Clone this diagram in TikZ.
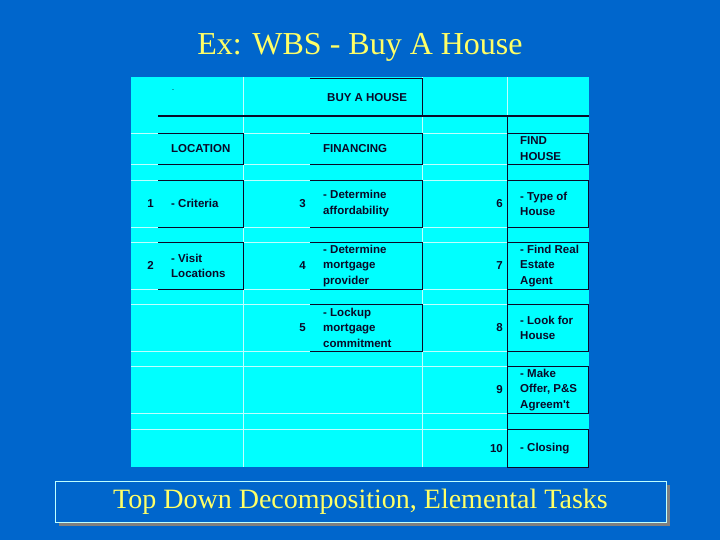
\documentclass[tikz,border=0pt]{standalone}
\usepackage{fontspec}
\setmainfont{Liberation Serif}
\newfontfamily\tabfont{Liberation Sans}
\usetikzlibrary{shadows}
\definecolor{bgblue}{RGB}{0,102,204}
\definecolor{tabcyan}{RGB}{0,255,255}
\definecolor{gridc}{RGB}{190,255,255}
\definecolor{ink}{RGB}{10,10,40}
\definecolor{ttl}{RGB}{255,255,102}
\tikzset{
  tabtext/.style={font=\tabfont\bfseries\fontsize{11.5}{15.5}\selectfont, text=ink},
  cellbox/.style={anchor=north west, inner sep=0pt},
  locbox/.style={cellbox, minimum width=85pt},
  finbox/.style={cellbox, minimum width=112pt},
  fhbox/.style={cellbox, minimum width=81pt},
  lbl/.style={tabtext, anchor=west, inner sep=0pt, align=left},
  num/.style={tabtext, anchor=east, inner sep=0pt},
  edge/.style={draw=ink, line width=0.8pt},
  grid/.style={draw=gridc, line width=0.6pt},
}
\begin{document}
\begin{tikzpicture}[x=1pt,y=-1pt]
\fill[bgblue] (0,0) rectangle (720,540);
\useasboundingbox (0,0) rectangle (720,540);
% title
\node[font=\fontsize{32}{36}\selectfont, text=ttl, anchor=base] (title) at (360,55) {Ex: WBS - Buy A House};
% table background
\fill[tabcyan] (131,77) rectangle (589,467);
% light grid
\foreach \yy in {133,164,180,227,242,289,304,351,366,413,429}
  \draw[grid] (131,\yy) -- (589,\yy);
\foreach \xx in {243,422,507}
  \draw[grid] (\xx,77) -- (\xx,467);
% top row
\node[finbox, minimum height=38pt] (buy) at (310,78) {};
\node[lbl] (tbuy) at ([xshift=17pt]buy.west) {BUY A HOUSE};
\draw[edge] (buy.north west) -- (buy.north east) -- (buy.south east);
\node[font=\tabfont\fontsize{6}{6}\selectfont, text=ink, inner sep=0pt] (tick) at (173,91) {-};
\coordinate (tl) at (158,116);
\coordinate (tr) at (589,116);
\draw[draw=ink, line width=1.6pt] (tl) -- (tr);
\coordinate (vt) at (507,116);
\coordinate (vb) at (507,467);
\draw[edge] (vt) -- (vb);
% LOCATION column
\node[locbox, minimum height=31pt] (loc) at (158,133) {};
\node[locbox, minimum height=47pt] (c1) at (158,180) {};
\node[locbox, minimum height=47pt] (c2) at (158,242) {};
\foreach \n in {loc,c1,c2}
  \draw[edge] (\n.north west) -- (\n.north east) -- (\n.south east) -- (\n.south west);
\node[lbl] (tloc) at ([xshift=13pt]loc.west) {LOCATION};
\node[lbl] (t1) at ([xshift=13pt]c1.west) {- Criteria};
\node[lbl] (t2) at ([xshift=13pt]c2.west) {- Visit\\Locations};
\node[num] (n1) at ([xshift=-4pt]c1.west) {1};
\node[num] (n2) at ([xshift=-4pt]c2.west) {2};
% FINANCING column
\node[finbox, minimum height=31pt] (fin) at (310,133) {};
\node[finbox, minimum height=47pt] (c3) at (310,180) {};
\node[finbox, minimum height=47pt] (c4) at (310,242) {};
\node[finbox, minimum height=47pt] (c5) at (310,304) {};
\foreach \n in {fin,c3,c4,c5}
  \draw[edge] (\n.north west) -- (\n.north east) -- (\n.south east) -- (\n.south west);
\node[lbl] (tfin) at ([xshift=13pt]fin.west) {FINANCING};
\node[lbl] (t3) at ([xshift=13pt]c3.west) {- Determine\\affordability};
\node[lbl] (t4) at ([xshift=13pt]c4.west) {- Determine\\mortgage\\provider};
\node[lbl] (t5) at ([xshift=13pt]c5.west) {- Lockup\\mortgage\\commitment};
\node[num] (n3) at ([xshift=-4pt]c3.west) {3};
\node[num] (n4) at ([xshift=-4pt]c4.west) {4};
\node[num] (n5) at ([xshift=-4pt]c5.west) {5};
% FIND HOUSE column
\node[fhbox, minimum height=31pt] (fh) at (507,133) {};
\node[fhbox, minimum height=47pt] (c6) at (507,180) {};
\node[fhbox, minimum height=47pt] (c7) at (507,242) {};
\node[fhbox, minimum height=47pt] (c8) at (507,304) {};
\node[fhbox, minimum height=47pt] (c9) at (507,366) {};
\node[fhbox, minimum height=38pt] (c10) at (507,429) {};
\foreach \n in {fh,c6,c7,c8,c9,c10}
  \draw[edge] (\n.north west) rectangle (\n.south east);
\node[lbl] (tfh) at ([xshift=13pt]fh.west) {FIND\\HOUSE};
\node[lbl] (t6) at ([xshift=13pt]c6.west) {- Type of\\House};
\node[lbl] (t7) at ([xshift=13pt]c7.west) {- Find Real\\Estate\\Agent};
\node[lbl] (t8) at ([xshift=13pt]c8.west) {- Look for\\House};
\node[lbl] (t9) at ([xshift=13pt]c9.west) {- Make\\Offer, P\&S\\Agreem't};
\node[lbl] (t10) at ([xshift=13pt]c10.west) {- Closing};
\node[num] (n6) at ([xshift=-4pt]c6.west) {6};
\node[num] (n7) at ([xshift=-4pt]c7.west) {7};
\node[num] (n8) at ([xshift=-4pt]c8.west) {8};
\node[num] (n9) at ([xshift=-4pt]c9.west) {9};
\node[num] (n10) at ([xshift=-4pt]c10.west) {10};
% bottom caption box
\node[font=\fontsize{28}{30}\selectfont, text=ttl, fill=bgblue, draw=gridc, line width=0.8pt,
      minimum width=611pt, minimum height=41pt, inner sep=0pt,
      drop shadow={shadow xshift=4pt, shadow yshift=-4pt, fill=black!50, opacity=1}] (tag) at (360.5,501.5) {Top Down Decomposition, Elemental Tasks};
\end{tikzpicture}
\end{document}
